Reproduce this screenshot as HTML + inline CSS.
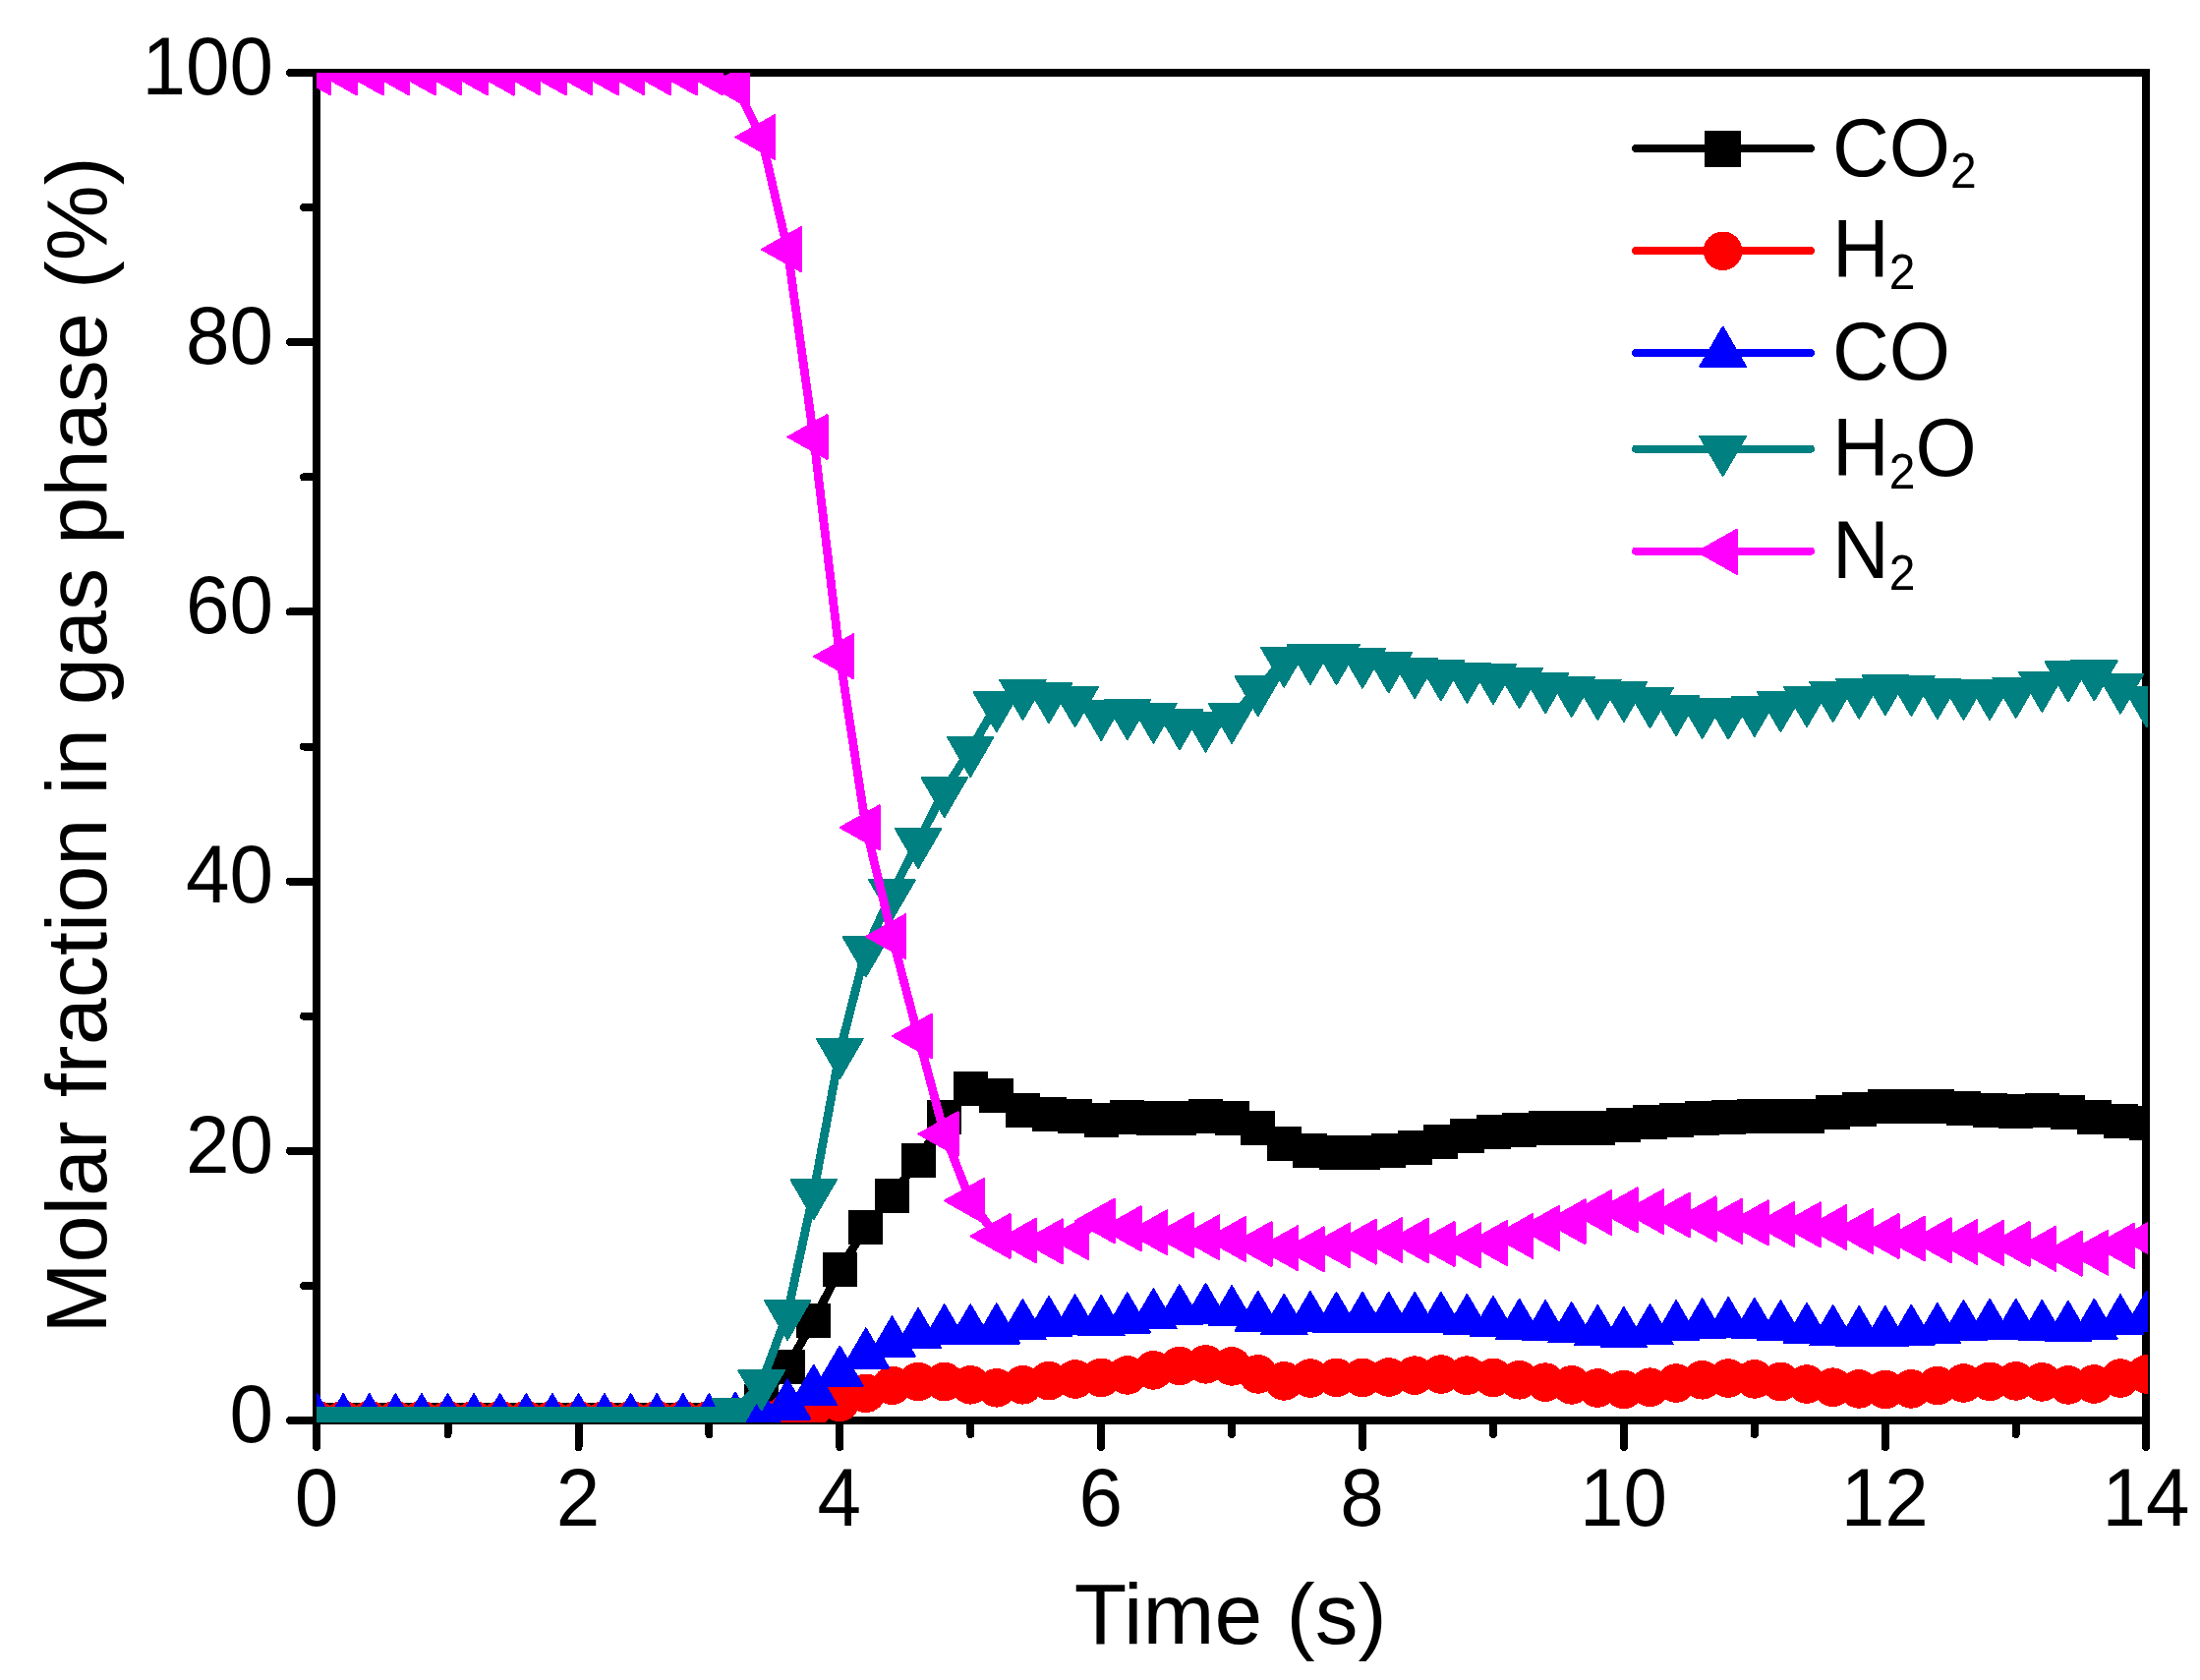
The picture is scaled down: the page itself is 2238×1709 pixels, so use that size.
<!DOCTYPE html>
<html lang="en"><head><meta charset="utf-8"><title>Molar fraction in gas phase</title>
<style>html,body{margin:0;padding:0;background:#fff}svg{display:block}text{font-family:"Liberation Sans",sans-serif;fill:#000}</style></head><body>
<svg width="2238" height="1709" viewBox="0 0 2238 1709" shape-rendering="crispEdges">
<rect width="2238" height="1709" fill="#fff"/>
<defs><clipPath id="c"><rect x="322" y="74" width="1863" height="1373"/></clipPath></defs>
<g stroke="#000" stroke-width="8" fill="none">
<path stroke-linecap="round" d="M295 74H330M295 1445H330M322 1440V1472M2183 1440V1472"/>
<path stroke-linecap="butt" d="M322 70V1445M2183 70V1445M322 74H2187M322 1445H2187"/>
<path stroke-linecap="round" d="M295 1170.8H322M295 896.6H322M295 622.4H322M295 348.2H322M309 1307.9H322M309 1033.7H322M309 759.5H322M309 485.3H322M309 211.1H322M588.5 1445V1472M854.3 1445V1472M1120.2 1445V1472M1386 1445V1472M1651.9 1445V1472M1917.8 1445V1472M455.5 1445V1459M721.4 1445V1459M987.3 1445V1459M1253.1 1445V1459M1519 1445V1459M1784.8 1445V1459M2050.7 1445V1459"/>
</g>
<g clip-path="url(#c)">
<polyline points="322.6,1444.6 349.2,1444.6 375.8,1444.6 402.4,1444.6 428.9,1444.6 455.5,1444.6 482.1,1444.6 508.7,1444.6 535.3,1444.6 561.9,1444.6 588.5,1444.6 615,1444.6 641.6,1444.6 668.2,1444.6 694.8,1444.6 721.4,1444.6 748,1443.5 774.6,1425.5 801.1,1390.3 827.7,1343.5 854.3,1291.4 880.9,1248.4 907.5,1216.4 934.1,1180.4 960.7,1136.5 987.2,1107.5 1013.8,1114.2 1040.4,1129.3 1067,1133.5 1093.6,1135.5 1120.2,1139.3 1146.8,1136.8 1173.4,1137 1199.9,1137 1226.5,1135.5 1253.1,1137.4 1279.7,1147.3 1306.3,1163.3 1332.9,1170.5 1359.5,1172.3 1386,1172.3 1412.6,1170.5 1439.2,1167.5 1465.8,1161.4 1492.4,1155.5 1519,1151.4 1545.6,1149.5 1572.1,1147.5 1598.7,1147.5 1625.3,1147.5 1651.9,1144.5 1678.5,1141.5 1705.1,1139.5 1731.7,1137.6 1758.2,1136.5 1784.8,1135.5 1811.4,1135.5 1838,1135.5 1864.6,1131.5 1891.2,1128.5 1917.8,1125.6 1944.3,1125.6 1970.9,1125.6 1997.5,1127.5 2024.1,1129.5 2050.7,1130.4 2077.3,1129.4 2103.9,1131.5 2130.4,1136.4 2157,1140.5 2183.6,1142.4" fill="none" stroke="#000" stroke-width="8.8" stroke-linejoin="round"/>
<path fill="#000" d="M305.1 1427.1h35v35h-35zM331.7 1427.1h35v35h-35zM358.3 1427.1h35v35h-35zM384.9 1427.1h35v35h-35zM411.4 1427.1h35v35h-35zM438 1427.1h35v35h-35zM464.6 1427.1h35v35h-35zM491.2 1427.1h35v35h-35zM517.8 1427.1h35v35h-35zM544.4 1427.1h35v35h-35zM571 1427.1h35v35h-35zM597.5 1427.1h35v35h-35zM624.1 1427.1h35v35h-35zM650.7 1427.1h35v35h-35zM677.3 1427.1h35v35h-35zM703.9 1427.1h35v35h-35zM730.5 1426h35v35h-35zM757.1 1408h35v35h-35zM783.6 1372.8h35v35h-35zM810.2 1326h35v35h-35zM836.8 1273.9h35v35h-35zM863.4 1230.9h35v35h-35zM890 1198.9h35v35h-35zM916.6 1162.9h35v35h-35zM943.2 1119h35v35h-35zM969.8 1090h35v35h-35zM996.3 1096.7h35v35h-35zM1022.9 1111.8h35v35h-35zM1049.5 1116h35v35h-35zM1076.1 1118h35v35h-35zM1102.7 1121.8h35v35h-35zM1129.3 1119.3h35v35h-35zM1155.9 1119.5h35v35h-35zM1182.4 1119.5h35v35h-35zM1209 1118h35v35h-35zM1235.6 1119.9h35v35h-35zM1262.2 1129.8h35v35h-35zM1288.8 1145.8h35v35h-35zM1315.4 1153h35v35h-35zM1342 1154.8h35v35h-35zM1368.5 1154.8h35v35h-35zM1395.1 1153h35v35h-35zM1421.7 1150h35v35h-35zM1448.3 1143.9h35v35h-35zM1474.9 1138h35v35h-35zM1501.5 1133.9h35v35h-35zM1528.1 1132h35v35h-35zM1554.6 1130h35v35h-35zM1581.2 1130h35v35h-35zM1607.8 1130h35v35h-35zM1634.4 1127h35v35h-35zM1661 1124h35v35h-35zM1687.6 1122h35v35h-35zM1714.2 1120.1h35v35h-35zM1740.7 1119h35v35h-35zM1767.3 1118h35v35h-35zM1793.9 1118h35v35h-35zM1820.5 1118h35v35h-35zM1847.1 1114h35v35h-35zM1873.7 1111h35v35h-35zM1900.3 1108.1h35v35h-35zM1926.8 1108.1h35v35h-35zM1953.4 1108.1h35v35h-35zM1980 1110h35v35h-35zM2006.6 1112h35v35h-35zM2033.2 1112.9h35v35h-35zM2059.8 1111.9h35v35h-35zM2086.4 1114h35v35h-35zM2112.9 1118.9h35v35h-35zM2139.5 1123h35v35h-35zM2166.1 1124.9h35v35h-35z"/>
<polyline points="322.6,1444.6 349.2,1444.6 375.8,1444.6 402.4,1444.6 428.9,1444.6 455.5,1444.6 482.1,1444.6 508.7,1444.6 535.3,1444.6 561.9,1444.6 588.5,1444.6 615,1444.6 641.6,1444.6 668.2,1444.6 694.8,1444.6 721.4,1444.6 748,1444.6 774.6,1443 801.1,1437.5 827.7,1431 854.3,1426.5 880.9,1417.3 907.5,1409.4 934.1,1405.5 960.7,1405.5 987.2,1408.8 1013.8,1411.8 1040.4,1408.8 1067,1404.7 1093.6,1403 1120.2,1401.4 1146.8,1398.9 1173.4,1393.9 1199.9,1389.5 1226.5,1387.9 1253.1,1389.9 1279.7,1397.9 1306.3,1404.9 1332.9,1402 1359.5,1401.4 1386,1401.4 1412.6,1401 1439.2,1399.1 1465.8,1398 1492.4,1399.1 1519,1401.4 1545.6,1403.8 1572.1,1406.1 1598.7,1408.9 1625.3,1412 1651.9,1413.5 1678.5,1411.2 1705.1,1407 1731.7,1403.8 1758.2,1402 1784.8,1402.9 1811.4,1405.5 1838,1408 1864.6,1411.2 1891.2,1412.9 1917.8,1413.5 1944.3,1412.9 1970.9,1409.5 1997.5,1407 2024.1,1405.3 2050.7,1404.9 2077.3,1405.9 2103.9,1408.9 2130.4,1408 2157,1402 2183.6,1398" fill="none" stroke="#f00" stroke-width="8.8" stroke-linejoin="round"/>
<g fill="#f00"><circle cx="322.6" cy="1444.6" r="19.8"/><circle cx="349.2" cy="1444.6" r="19.8"/><circle cx="375.8" cy="1444.6" r="19.8"/><circle cx="402.4" cy="1444.6" r="19.8"/><circle cx="428.9" cy="1444.6" r="19.8"/><circle cx="455.5" cy="1444.6" r="19.8"/><circle cx="482.1" cy="1444.6" r="19.8"/><circle cx="508.7" cy="1444.6" r="19.8"/><circle cx="535.3" cy="1444.6" r="19.8"/><circle cx="561.9" cy="1444.6" r="19.8"/><circle cx="588.5" cy="1444.6" r="19.8"/><circle cx="615" cy="1444.6" r="19.8"/><circle cx="641.6" cy="1444.6" r="19.8"/><circle cx="668.2" cy="1444.6" r="19.8"/><circle cx="694.8" cy="1444.6" r="19.8"/><circle cx="721.4" cy="1444.6" r="19.8"/><circle cx="748" cy="1444.6" r="19.8"/><circle cx="774.6" cy="1443" r="19.8"/><circle cx="801.1" cy="1437.5" r="19.8"/><circle cx="827.7" cy="1431" r="19.8"/><circle cx="854.3" cy="1426.5" r="19.8"/><circle cx="880.9" cy="1417.3" r="19.8"/><circle cx="907.5" cy="1409.4" r="19.8"/><circle cx="934.1" cy="1405.5" r="19.8"/><circle cx="960.7" cy="1405.5" r="19.8"/><circle cx="987.2" cy="1408.8" r="19.8"/><circle cx="1013.8" cy="1411.8" r="19.8"/><circle cx="1040.4" cy="1408.8" r="19.8"/><circle cx="1067" cy="1404.7" r="19.8"/><circle cx="1093.6" cy="1403" r="19.8"/><circle cx="1120.2" cy="1401.4" r="19.8"/><circle cx="1146.8" cy="1398.9" r="19.8"/><circle cx="1173.4" cy="1393.9" r="19.8"/><circle cx="1199.9" cy="1389.5" r="19.8"/><circle cx="1226.5" cy="1387.9" r="19.8"/><circle cx="1253.1" cy="1389.9" r="19.8"/><circle cx="1279.7" cy="1397.9" r="19.8"/><circle cx="1306.3" cy="1404.9" r="19.8"/><circle cx="1332.9" cy="1402" r="19.8"/><circle cx="1359.5" cy="1401.4" r="19.8"/><circle cx="1386" cy="1401.4" r="19.8"/><circle cx="1412.6" cy="1401" r="19.8"/><circle cx="1439.2" cy="1399.1" r="19.8"/><circle cx="1465.8" cy="1398" r="19.8"/><circle cx="1492.4" cy="1399.1" r="19.8"/><circle cx="1519" cy="1401.4" r="19.8"/><circle cx="1545.6" cy="1403.8" r="19.8"/><circle cx="1572.1" cy="1406.1" r="19.8"/><circle cx="1598.7" cy="1408.9" r="19.8"/><circle cx="1625.3" cy="1412" r="19.8"/><circle cx="1651.9" cy="1413.5" r="19.8"/><circle cx="1678.5" cy="1411.2" r="19.8"/><circle cx="1705.1" cy="1407" r="19.8"/><circle cx="1731.7" cy="1403.8" r="19.8"/><circle cx="1758.2" cy="1402" r="19.8"/><circle cx="1784.8" cy="1402.9" r="19.8"/><circle cx="1811.4" cy="1405.5" r="19.8"/><circle cx="1838" cy="1408" r="19.8"/><circle cx="1864.6" cy="1411.2" r="19.8"/><circle cx="1891.2" cy="1412.9" r="19.8"/><circle cx="1917.8" cy="1413.5" r="19.8"/><circle cx="1944.3" cy="1412.9" r="19.8"/><circle cx="1970.9" cy="1409.5" r="19.8"/><circle cx="1997.5" cy="1407" r="19.8"/><circle cx="2024.1" cy="1405.3" r="19.8"/><circle cx="2050.7" cy="1404.9" r="19.8"/><circle cx="2077.3" cy="1405.9" r="19.8"/><circle cx="2103.9" cy="1408.9" r="19.8"/><circle cx="2130.4" cy="1408" r="19.8"/><circle cx="2157" cy="1402" r="19.8"/><circle cx="2183.6" cy="1398" r="19.8"/></g>
<polyline points="322.6,1444.8 349.2,1444.8 375.8,1444.8 402.4,1444.8 428.9,1444.8 455.5,1444.8 482.1,1444.8 508.7,1444.8 535.3,1444.8 561.9,1444.8 588.5,1444.8 615,1444.8 641.6,1444.8 668.2,1444.8 694.8,1444.8 721.4,1444.8 748,1443.5 774.6,1440 801.1,1430 827.7,1415.4 854.3,1396.2 880.9,1378 907.5,1366 934.1,1357.9 960.7,1353.9 987.2,1353.9 1013.8,1353 1040.4,1348.8 1067,1345.7 1093.6,1343.9 1120.2,1344.8 1146.8,1342 1173.4,1337.9 1199.9,1333.9 1226.5,1332.6 1253.1,1334.8 1279.7,1340.6 1306.3,1343.5 1332.9,1340.6 1359.5,1341.5 1386,1341.5 1412.6,1341.5 1439.2,1341.5 1465.8,1341.5 1492.4,1343.5 1519,1345.7 1545.6,1348.4 1572.1,1349.9 1598.7,1351.7 1625.3,1354.6 1651.9,1356.6 1678.5,1353.9 1705.1,1349.9 1731.7,1347.9 1758.2,1346.6 1784.8,1347.5 1811.4,1349.9 1838,1352.6 1864.6,1354.8 1891.2,1355.7 1917.8,1355.7 1944.3,1354.4 1970.9,1352.6 1997.5,1349.7 2024.1,1348.4 2050.7,1348.4 2077.3,1349.6 2103.9,1350.5 2130.4,1348.4 2157,1343.9 2183.6,1340.5" fill="none" stroke="#00f" stroke-width="8.8" stroke-linejoin="round"/>
<path fill="#00f" stroke="#00f" stroke-width="2" stroke-linejoin="round" d="M322.6 1418.2L345.9 1458.3L299.3 1458.3zM349.2 1418.2L372.5 1458.3L325.9 1458.3zM375.8 1418.2L399.1 1458.3L352.5 1458.3zM402.4 1418.2L425.7 1458.3L379.1 1458.3zM428.9 1418.2L452.2 1458.3L405.6 1458.3zM455.5 1418.2L478.8 1458.3L432.2 1458.3zM482.1 1418.2L505.4 1458.3L458.8 1458.3zM508.7 1418.2L532 1458.3L485.4 1458.3zM535.3 1418.2L558.6 1458.3L512 1458.3zM561.9 1418.2L585.2 1458.3L538.6 1458.3zM588.5 1418.2L611.8 1458.3L565.2 1458.3zM615 1418.2L638.3 1458.3L591.7 1458.3zM641.6 1418.2L664.9 1458.3L618.3 1458.3zM668.2 1418.2L691.5 1458.3L644.9 1458.3zM694.8 1418.2L718.1 1458.3L671.5 1458.3zM721.4 1418.2L744.7 1458.3L698.1 1458.3zM748 1416.9L771.3 1457L724.7 1457zM774.6 1413.4L797.9 1453.5L751.3 1453.5zM801.1 1403.4L824.4 1443.5L777.8 1443.5zM827.7 1388.8L851 1428.9L804.4 1428.9zM854.3 1369.6L877.6 1409.7L831 1409.7zM880.9 1351.4L904.2 1391.5L857.6 1391.5zM907.5 1339.4L930.8 1379.5L884.2 1379.5zM934.1 1331.3L957.4 1371.4L910.8 1371.4zM960.7 1327.3L984 1367.4L937.4 1367.4zM987.2 1327.3L1010.5 1367.4L964 1367.4zM1013.8 1326.4L1037.1 1366.5L990.5 1366.5zM1040.4 1322.2L1063.7 1362.3L1017.1 1362.3zM1067 1319.1L1090.3 1359.2L1043.7 1359.2zM1093.6 1317.3L1116.9 1357.4L1070.3 1357.4zM1120.2 1318.2L1143.5 1358.3L1096.9 1358.3zM1146.8 1315.4L1170.1 1355.5L1123.5 1355.5zM1173.4 1311.3L1196.7 1351.4L1150.1 1351.4zM1199.9 1307.3L1223.2 1347.4L1176.6 1347.4zM1226.5 1306L1249.8 1346.1L1203.2 1346.1zM1253.1 1308.2L1276.4 1348.3L1229.8 1348.3zM1279.7 1314L1303 1354.1L1256.4 1354.1zM1306.3 1316.9L1329.6 1357L1283 1357zM1332.9 1314L1356.2 1354.1L1309.6 1354.1zM1359.5 1314.9L1382.8 1355L1336.2 1355zM1386 1314.9L1409.3 1355L1362.7 1355zM1412.6 1314.9L1435.9 1355L1389.3 1355zM1439.2 1314.9L1462.5 1355L1415.9 1355zM1465.8 1314.9L1489.1 1355L1442.5 1355zM1492.4 1316.9L1515.7 1357L1469.1 1357zM1519 1319.1L1542.3 1359.2L1495.7 1359.2zM1545.6 1321.8L1568.9 1361.9L1522.3 1361.9zM1572.1 1323.3L1595.4 1363.4L1548.8 1363.4zM1598.7 1325.1L1622 1365.2L1575.4 1365.2zM1625.3 1328L1648.6 1368.1L1602 1368.1zM1651.9 1330L1675.2 1370.1L1628.6 1370.1zM1678.5 1327.3L1701.8 1367.4L1655.2 1367.4zM1705.1 1323.3L1728.4 1363.4L1681.8 1363.4zM1731.7 1321.3L1755 1361.4L1708.4 1361.4zM1758.2 1320L1781.5 1360.1L1734.9 1360.1zM1784.8 1320.9L1808.1 1361L1761.5 1361zM1811.4 1323.3L1834.7 1363.4L1788.1 1363.4zM1838 1326L1861.3 1366.1L1814.7 1366.1zM1864.6 1328.2L1887.9 1368.3L1841.3 1368.3zM1891.2 1329.1L1914.5 1369.2L1867.9 1369.2zM1917.8 1329.1L1941.1 1369.2L1894.5 1369.2zM1944.3 1327.8L1967.6 1367.9L1921 1367.9zM1970.9 1326L1994.2 1366.1L1947.6 1366.1zM1997.5 1323.1L2020.8 1363.2L1974.2 1363.2zM2024.1 1321.8L2047.4 1361.9L2000.8 1361.9zM2050.7 1321.8L2074 1361.9L2027.4 1361.9zM2077.3 1323L2100.6 1363.1L2054 1363.1zM2103.9 1323.9L2127.2 1364L2080.6 1364zM2130.4 1321.8L2153.7 1361.9L2107.1 1361.9zM2157 1317.3L2180.3 1357.4L2133.7 1357.4zM2183.6 1313.9L2206.9 1354L2160.3 1354z"/>
<polyline points="322.6,1444.5 349.2,1444.5 375.8,1444.5 402.4,1444.5 428.9,1444.5 455.5,1444.5 482.1,1444.5 508.7,1444.5 535.3,1444.5 561.9,1444.5 588.5,1444.5 615,1444.5 641.6,1444.5 668.2,1444.5 694.8,1444.5 721.4,1444.5 748,1435.8 774.6,1407.2 801.1,1335.8 827.7,1213 854.3,1070 880.9,966 907.5,908.2 934.1,856 960.7,804 987.2,762.8 1013.8,717 1040.4,704.8 1067,708 1093.6,712 1120.2,725.7 1146.8,725 1173.4,728.6 1199.9,735.3 1226.5,737.5 1253.1,728.7 1279.7,701 1306.3,671.5 1332.9,668.8 1359.5,669 1386,672.5 1412.6,677.2 1439.2,683 1465.8,685.3 1492.4,687.5 1519,688.8 1545.6,693 1572.1,698 1598.7,701.8 1625.3,704.8 1651.9,706.8 1678.5,713 1705.1,720.9 1731.7,723.7 1758.2,724.4 1784.8,721.8 1811.4,716.9 1838,711.8 1864.6,706.9 1891.2,703.5 1917.8,700 1944.3,700.7 1970.9,703.7 1997.5,704.8 2024.1,704.8 2050.7,702.7 2077.3,696.7 2103.9,686.4 2130.4,685.3 2157,698.5 2183.6,712" fill="none" stroke="#008080" stroke-width="8.8" stroke-linejoin="round"/>
<path fill="#008080" stroke="#008080" stroke-width="2" stroke-linejoin="round" d="M322.6 1471.6L345.9 1431.5L299.3 1431.5zM349.2 1471.6L372.5 1431.5L325.9 1431.5zM375.8 1471.6L399.1 1431.5L352.5 1431.5zM402.4 1471.6L425.7 1431.5L379.1 1431.5zM428.9 1471.6L452.2 1431.5L405.6 1431.5zM455.5 1471.6L478.8 1431.5L432.2 1431.5zM482.1 1471.6L505.4 1431.5L458.8 1431.5zM508.7 1471.6L532 1431.5L485.4 1431.5zM535.3 1471.6L558.6 1431.5L512 1431.5zM561.9 1471.6L585.2 1431.5L538.6 1431.5zM588.5 1471.6L611.8 1431.5L565.2 1431.5zM615 1471.6L638.3 1431.5L591.7 1431.5zM641.6 1471.6L664.9 1431.5L618.3 1431.5zM668.2 1471.6L691.5 1431.5L644.9 1431.5zM694.8 1471.6L718.1 1431.5L671.5 1431.5zM721.4 1471.6L744.7 1431.5L698.1 1431.5zM748 1462.9L771.3 1422.8L724.7 1422.8zM774.6 1434.3L797.9 1394.2L751.3 1394.2zM801.1 1362.9L824.4 1322.8L777.8 1322.8zM827.7 1240.1L851 1200L804.4 1200zM854.3 1097.1L877.6 1057L831 1057zM880.9 993.1L904.2 953L857.6 953zM907.5 935.3L930.8 895.2L884.2 895.2zM934.1 883.1L957.4 843L910.8 843zM960.7 831.1L984 791L937.4 791zM987.2 789.9L1010.5 749.8L964 749.8zM1013.8 744.1L1037.1 704L990.5 704zM1040.4 731.9L1063.7 691.8L1017.1 691.8zM1067 735.1L1090.3 695L1043.7 695zM1093.6 739.1L1116.9 699L1070.3 699zM1120.2 752.8L1143.5 712.7L1096.9 712.7zM1146.8 752.1L1170.1 712L1123.5 712zM1173.4 755.7L1196.7 715.6L1150.1 715.6zM1199.9 762.4L1223.2 722.3L1176.6 722.3zM1226.5 764.6L1249.8 724.5L1203.2 724.5zM1253.1 755.8L1276.4 715.7L1229.8 715.7zM1279.7 728.1L1303 688L1256.4 688zM1306.3 698.6L1329.6 658.5L1283 658.5zM1332.9 695.9L1356.2 655.8L1309.6 655.8zM1359.5 696.1L1382.8 656L1336.2 656zM1386 699.6L1409.3 659.5L1362.7 659.5zM1412.6 704.3L1435.9 664.2L1389.3 664.2zM1439.2 710.1L1462.5 670L1415.9 670zM1465.8 712.4L1489.1 672.3L1442.5 672.3zM1492.4 714.6L1515.7 674.5L1469.1 674.5zM1519 715.9L1542.3 675.8L1495.7 675.8zM1545.6 720.1L1568.9 680L1522.3 680zM1572.1 725.1L1595.4 685L1548.8 685zM1598.7 728.9L1622 688.8L1575.4 688.8zM1625.3 731.9L1648.6 691.8L1602 691.8zM1651.9 733.9L1675.2 693.8L1628.6 693.8zM1678.5 740.1L1701.8 700L1655.2 700zM1705.1 748L1728.4 707.9L1681.8 707.9zM1731.7 750.8L1755 710.7L1708.4 710.7zM1758.2 751.5L1781.5 711.4L1734.9 711.4zM1784.8 748.9L1808.1 708.8L1761.5 708.8zM1811.4 744L1834.7 703.9L1788.1 703.9zM1838 738.9L1861.3 698.8L1814.7 698.8zM1864.6 734L1887.9 693.9L1841.3 693.9zM1891.2 730.6L1914.5 690.5L1867.9 690.5zM1917.8 727.1L1941.1 687L1894.5 687zM1944.3 727.8L1967.6 687.7L1921 687.7zM1970.9 730.8L1994.2 690.7L1947.6 690.7zM1997.5 731.9L2020.8 691.8L1974.2 691.8zM2024.1 731.9L2047.4 691.8L2000.8 691.8zM2050.7 729.8L2074 689.7L2027.4 689.7zM2077.3 723.8L2100.6 683.7L2054 683.7zM2103.9 713.5L2127.2 673.4L2080.6 673.4zM2130.4 712.4L2153.7 672.3L2107.1 672.3zM2157 725.6L2180.3 685.5L2133.7 685.5zM2183.6 739.1L2206.9 699L2160.3 699z"/>
<polyline points="322.6,74 349.2,74 375.8,74 402.4,74 428.9,74 455.5,74 482.1,74 508.7,74 535.3,74 561.9,74 588.5,74 615,74 641.6,74 668.2,74 694.8,74 721.4,74 748,86.8 774.6,139.5 801.1,253.7 827.7,444.5 854.3,667.8 880.9,841.8 907.5,952.7 934.1,1054 960.7,1153.6 987.2,1221.5 1013.8,1257.5 1040.4,1262 1067,1262.9 1093.6,1258.8 1120.2,1242 1146.8,1249.8 1173.4,1253.8 1199.9,1256.5 1226.5,1258.8 1253.1,1260.5 1279.7,1265.6 1306.3,1269.8 1332.9,1270.9 1359.5,1266.9 1386,1263.1 1412.6,1261.5 1439.2,1262 1465.8,1265.5 1492.4,1266.9 1519,1264.5 1545.6,1257.4 1572.1,1249.4 1598.7,1242.9 1625.3,1233.5 1651.9,1230.9 1678.5,1232.6 1705.1,1236 1731.7,1240 1758.2,1242.2 1784.8,1244 1811.4,1245.5 1838,1245.9 1864.6,1248.5 1891.2,1252.5 1917.8,1257.5 1944.3,1260 1970.9,1261.7 1997.5,1263.5 2024.1,1264.3 2050.7,1265.4 2077.3,1270.2 2103.9,1275.2 2130.4,1274.2 2157,1267.3 2183.6,1259.5" fill="none" stroke="#f0f" stroke-width="8.8" stroke-linejoin="round"/>
<path fill="#f0f" stroke="#f0f" stroke-width="2" stroke-linejoin="round" d="M296.4 74L336.4 51.5L336.4 96.5zM323 74L363 51.5L363 96.5zM349.6 74L389.6 51.5L389.6 96.5zM376.2 74L416.2 51.5L416.2 96.5zM402.7 74L442.7 51.5L442.7 96.5zM429.3 74L469.3 51.5L469.3 96.5zM455.9 74L495.9 51.5L495.9 96.5zM482.5 74L522.5 51.5L522.5 96.5zM509.1 74L549.1 51.5L549.1 96.5zM535.7 74L575.7 51.5L575.7 96.5zM562.3 74L602.3 51.5L602.3 96.5zM588.8 74L628.8 51.5L628.8 96.5zM615.4 74L655.4 51.5L655.4 96.5zM642 74L682 51.5L682 96.5zM668.6 74L708.6 51.5L708.6 96.5zM695.2 74L735.2 51.5L735.2 96.5zM721.8 86.8L761.8 64.3L761.8 109.3zM748.4 139.5L788.4 117L788.4 162zM774.9 253.7L814.9 231.2L814.9 276.2zM801.5 444.5L841.5 422L841.5 467zM828.1 667.8L868.1 645.3L868.1 690.3zM854.7 841.8L894.7 819.3L894.7 864.3zM881.3 952.7L921.3 930.2L921.3 975.2zM907.9 1054L947.9 1031.5L947.9 1076.5zM934.5 1153.6L974.5 1131.1L974.5 1176.1zM961 1221.5L1001 1199L1001 1244zM987.6 1257.5L1027.6 1235L1027.6 1280zM1014.2 1262L1054.2 1239.5L1054.2 1284.5zM1040.8 1262.9L1080.8 1240.4L1080.8 1285.4zM1067.4 1258.8L1107.4 1236.3L1107.4 1281.3zM1094 1242L1134 1219.5L1134 1264.5zM1120.6 1249.8L1160.6 1227.3L1160.6 1272.3zM1147.2 1253.8L1187.2 1231.3L1187.2 1276.3zM1173.7 1256.5L1213.7 1234L1213.7 1279zM1200.3 1258.8L1240.3 1236.3L1240.3 1281.3zM1226.9 1260.5L1266.9 1238L1266.9 1283zM1253.5 1265.6L1293.5 1243.1L1293.5 1288.1zM1280.1 1269.8L1320.1 1247.3L1320.1 1292.3zM1306.7 1270.9L1346.7 1248.4L1346.7 1293.4zM1333.3 1266.9L1373.3 1244.4L1373.3 1289.4zM1359.8 1263.1L1399.8 1240.6L1399.8 1285.6zM1386.4 1261.5L1426.4 1239L1426.4 1284zM1413 1262L1453 1239.5L1453 1284.5zM1439.6 1265.5L1479.6 1243L1479.6 1288zM1466.2 1266.9L1506.2 1244.4L1506.2 1289.4zM1492.8 1264.5L1532.8 1242L1532.8 1287zM1519.4 1257.4L1559.4 1234.9L1559.4 1279.9zM1545.9 1249.4L1585.9 1226.9L1585.9 1271.9zM1572.5 1242.9L1612.5 1220.4L1612.5 1265.4zM1599.1 1233.5L1639.1 1211L1639.1 1256zM1625.7 1230.9L1665.7 1208.4L1665.7 1253.4zM1652.3 1232.6L1692.3 1210.1L1692.3 1255.1zM1678.9 1236L1718.9 1213.5L1718.9 1258.5zM1705.5 1240L1745.5 1217.5L1745.5 1262.5zM1732 1242.2L1772 1219.7L1772 1264.7zM1758.6 1244L1798.6 1221.5L1798.6 1266.5zM1785.2 1245.5L1825.2 1223L1825.2 1268zM1811.8 1245.9L1851.8 1223.4L1851.8 1268.4zM1838.4 1248.5L1878.4 1226L1878.4 1271zM1865 1252.5L1905 1230L1905 1275zM1891.6 1257.5L1931.6 1235L1931.6 1280zM1918.1 1260L1958.1 1237.5L1958.1 1282.5zM1944.7 1261.7L1984.7 1239.2L1984.7 1284.2zM1971.3 1263.5L2011.3 1241L2011.3 1286zM1997.9 1264.3L2037.9 1241.8L2037.9 1286.8zM2024.5 1265.4L2064.5 1242.9L2064.5 1287.9zM2051.1 1270.2L2091.1 1247.7L2091.1 1292.7zM2077.7 1275.2L2117.7 1252.7L2117.7 1297.7zM2104.2 1274.2L2144.2 1251.7L2144.2 1296.7zM2130.8 1267.3L2170.8 1244.8L2170.8 1289.8zM2157.4 1259.5L2197.4 1237L2197.4 1282z"/>
</g>
<g stroke-width="8" stroke-linecap="round">
<path stroke="#000" d="M1664 151H1842"/>
<path stroke="#f00" d="M1664 255H1842"/>
<path stroke="#00f" d="M1664 359H1842"/>
<path stroke="#008080" d="M1664 456.7H1842"/>
<path stroke="#f0f" d="M1664 560.7H1842"/>
</g>
<path fill="#000" d="M1734.2 132.9h36.8v36.8h-36.8z"/>
<circle fill="#f00" cx="1752.6" cy="255.3" r="19.8"/>
<path fill="#00f" stroke="#00f" stroke-width="2" stroke-linejoin="round" d="M1752.6 332.7L1775.9 372.8L1729.3 372.8z"/>
<path fill="#008080" stroke="#008080" stroke-width="2" stroke-linejoin="round" d="M1752.6 484.1L1775.9 444L1729.3 444z"/>
<path fill="#f0f" stroke="#f0f" stroke-width="2" stroke-linejoin="round" d="M1726.8 561.3L1766.8 538.8L1766.8 583.8z"/>
<text transform="translate(1864 178.5) scale(1 1.045)" font-size="80"><tspan dy="0">CO</tspan><tspan dy="12.1" font-size="48">2</tspan></text>
<text transform="translate(1864 281.8) scale(1 1.045)" font-size="80"><tspan dy="0">H</tspan><tspan dy="12.1" font-size="48">2</tspan></text>
<text transform="translate(1864 386.3) scale(1 1.045)" font-size="80"><tspan dy="0">CO</tspan></text>
<text transform="translate(1864 484.2) scale(1 1.045)" font-size="80"><tspan dy="0">H</tspan><tspan dy="12.1" font-size="48">2</tspan><tspan dy="-12.1">O</tspan></text>
<text transform="translate(1864 587.8) scale(1 1.045)" font-size="80"><tspan dy="0">N</tspan><tspan dy="12.1" font-size="48">2</tspan></text>
<g font-size="80" text-anchor="end">
<text transform="translate(278 1466.8) scale(1 1.04)">0</text>
<text transform="translate(278 1192.6) scale(1 1.04)">20</text>
<text transform="translate(278 918.4) scale(1 1.04)">40</text>
<text transform="translate(278 644.2) scale(1 1.04)">60</text>
<text transform="translate(278 370) scale(1 1.04)">80</text>
<text transform="translate(278 95.8) scale(1 1.04)">100</text>
</g>
<g font-size="80" text-anchor="middle">
<text transform="translate(322.1 1552.4) scale(1 1.04)">0</text>
<text transform="translate(588 1552.4) scale(1 1.04)">2</text>
<text transform="translate(853.8 1552.4) scale(1 1.04)">4</text>
<text transform="translate(1119.7 1552.4) scale(1 1.04)">6</text>
<text transform="translate(1385.5 1552.4) scale(1 1.04)">8</text>
<text transform="translate(1651.4 1552.4) scale(1 1.04)">10</text>
<text transform="translate(1917.3 1552.4) scale(1 1.04)">12</text>
<text transform="translate(2183.1 1552.4) scale(1 1.04)">14</text>
</g>
<text transform="translate(1251.8 1672.4) scale(1.013 1.005)" font-size="86.5" text-anchor="middle">Time (s)</text>
<text transform="translate(108 758) rotate(-90) scale(1 1.005)" font-size="86.5" text-anchor="middle">Molar fraction in gas phase (%)</text>
</svg></body></html>
